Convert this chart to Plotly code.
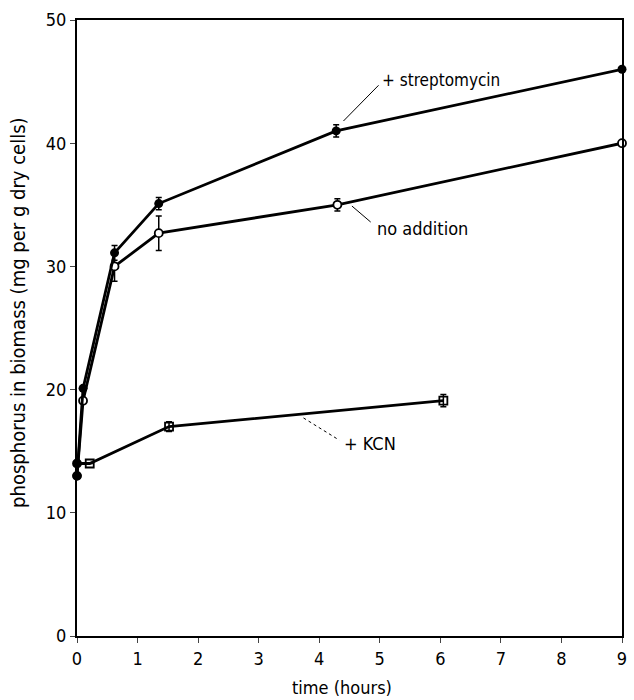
import plotly.graph_objects as go

# data
strep_x = [0, 0.1, 0.62, 1.35, 4.28, 9]
strep_y = [13, 20.1, 31.1, 35.1, 41.0, 46.0]
strep_err = [0, 0, 0.6, 0.5, 0.5, 0]

noadd_x = [0, 0.1, 0.62, 1.35, 4.3, 9]
noadd_y = [13, 19.1, 30.0, 32.7, 35.0, 40.0]
noadd_err = [0, 0, 1.2, 1.4, 0.5, 0]

kcn_x = [0, 0.21, 1.52, 6.05]
kcn_y = [14, 14.0, 17.0, 19.1]
kcn_err = [0, 0, 0.4, 0.5]
kcn_symbols = ["circle", "square-open", "square-open", "square-open"]

x_ticks = [0, 1, 2, 3, 4, 5, 6, 7, 8, 9]
y_ticks = [0, 10, 20, 30, 40, 50]

FONT = "DejaVu Sans Condensed, Liberation Sans Narrow, sans-serif"

fig = go.Figure()

fig.add_trace(go.Scatter(
    x=noadd_x, y=noadd_y, mode="lines+markers", cliponaxis=False,
    line=dict(color="black", width=2.8),
    marker=dict(symbol="circle", size=8, color="white", line=dict(color="black", width=1.8)),
    error_y=dict(type="data", array=noadd_err, color="black", thickness=1.5, width=3),
    showlegend=False))

fig.add_trace(go.Scatter(
    x=strep_x, y=strep_y, mode="lines+markers", cliponaxis=False,
    line=dict(color="black", width=2.8),
    marker=dict(symbol="circle", size=9, color="black"),
    error_y=dict(type="data", array=strep_err, color="black", thickness=1.5, width=3),
    showlegend=False))

fig.add_trace(go.Scatter(
    x=kcn_x, y=kcn_y, mode="lines+markers", cliponaxis=False,
    line=dict(color="black", width=2.8),
    marker=dict(symbol=kcn_symbols, size=8, color="black", line=dict(color="black", width=1.8)),
    error_y=dict(type="data", array=kcn_err, color="black", thickness=1.5, width=3),
    showlegend=False))

# leader lines and labels
leaders = [
    (4.4, 41.8, 4.98, 44.7, "solid"),
    (4.54, 34.9, 4.85, 33.6, "solid"),
    (3.74, 17.7, 4.33, 15.9, "dot"),
]
for x0, y0, x1, y1, dash in leaders:
    fig.add_trace(go.Scatter(x=[x0, x1], y=[y0, y1], mode="lines",
                             line=dict(color="black", width=1, dash=dash),
                             showlegend=False, hoverinfo="skip"))

labels = [
    (5.0, 45.1, "+ streptomycin", 17),
    (4.92, 33.1, "no addition", 18),
    (4.38, 15.6, "+ KCN", 18),
]
for lx, ly, txt, fs in labels:
    fig.add_annotation(x=lx, y=ly, text=txt, showarrow=False, xanchor="left",
                       yanchor="middle", font=dict(family=FONT, size=fs, color="black"))

# axis titles
fig.add_annotation(xref="paper", yref="paper", x=0.487, y=-0.084,
                   text="time (hours)", showarrow=False, xanchor="center", yanchor="middle",
                   font=dict(family=FONT, size=18, color="black"))
fig.add_annotation(xref="paper", yref="paper", x=-0.107, y=0.524, textangle=-90,
                   text="phosphorus in biomass (mg per g dry cells)", showarrow=False,
                   xanchor="center", yanchor="middle",
                   font=dict(family=FONT, size=20, color="black"))

fig.update_xaxes(range=[0, 9], tickvals=x_ticks, ticks="outside", ticklen=5,
                 showline=True, linecolor="black", linewidth=2, mirror=True,
                 showgrid=False, zeroline=False,
                 tickfont=dict(family=FONT, size=18, color="black"))
fig.update_yaxes(range=[0, 50], tickvals=y_ticks, ticks="outside", ticklen=5,
                 showline=True, linecolor="black", linewidth=2, mirror=True,
                 showgrid=False, zeroline=False,
                 tickfont=dict(family=FONT, size=18, color="black"))

fig.update_layout(width=634, height=700, plot_bgcolor="white", paper_bgcolor="white",
                  margin=dict(l=77, r=7, t=20, b=64))

fig.write_html("out.html")
